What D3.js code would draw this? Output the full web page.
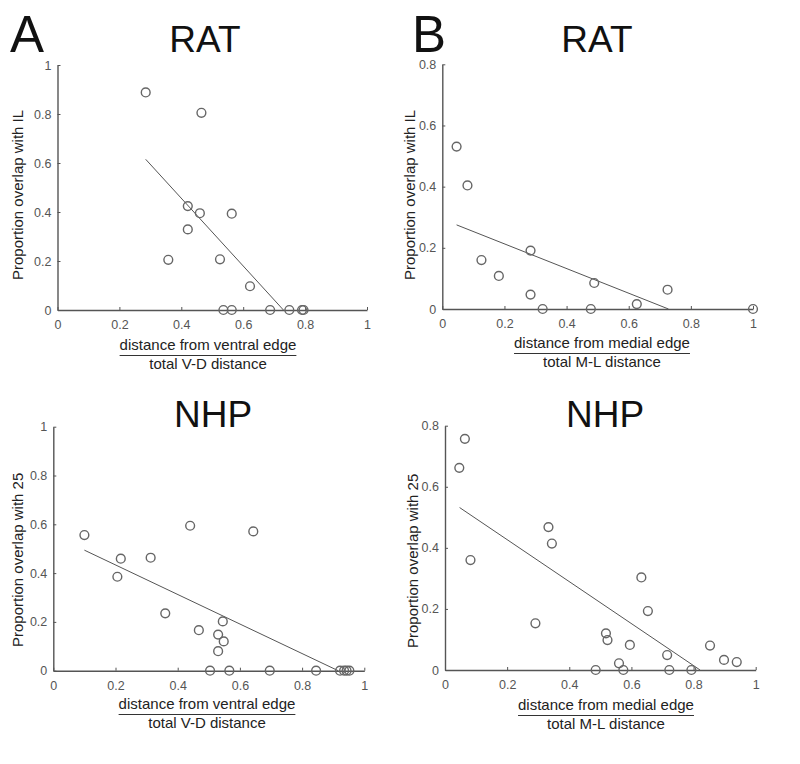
<!DOCTYPE html>
<html>
<head>
<meta charset="utf-8">
<script src="https://cdn.jsdelivr.net/npm/d3@7"></script>
<style>
  html, body { margin: 0; padding: 0; background: #fff; }
  svg text { font-family: Arial, "Liberation Sans", sans-serif; }
</style>
</head>
<body>
<svg id="chart" width="800" height="764"></svg>
<script>
// ---------- DATA ----------
const xTicks = [0, 0.2, 0.4, 0.6, 0.8, 1];
const yTicksA = [0, 0.2, 0.4, 0.6, 0.8, 1];
const yTicksB = [0, 0.2, 0.4, 0.6, 0.8];

// Panel A (rat, V-D)
const ratVD_x = [0.285, 0.465, 0.421, 0.460, 0.563, 0.421, 0.358, 0.525, 0.622, 0.536, 0.563, 0.687, 0.749, 0.790, 0.795];
const ratVD_y = [0.888, 0.805, 0.424, 0.395, 0.393, 0.329, 0.205, 0.207, 0.097, 0, 0, 0, 0, 0, 0];
const ratVD_fitX = [0.285, 0.730];
const ratVD_fitY = [0.615, 0];

// Panel B (rat, M-L)
const ratML_x = [0.046, 0.081, 0.126, 0.182, 0.284, 0.284, 0.323, 0.478, 0.489, 0.626, 0.725, 1.0];
const ratML_y = [0.531, 0.404, 0.160, 0.108, 0.191, 0.047, 0, 0, 0.085, 0.016, 0.063, 0];
const ratML_fitX = [0.046, 0.728];
const ratML_fitY = [0.275, 0];

// Panel C (NHP, V-D)
const nhpVD_x = [0.100, 0.217, 0.206, 0.313, 0.440, 0.643, 0.360, 0.468, 0.545, 0.530, 0.548, 0.530, 0.504, 0.566, 0.696, 0.845, 0.922, 0.935, 0.943, 0.952];
const nhpVD_y = [0.556, 0.459, 0.385, 0.463, 0.594, 0.571, 0.235, 0.166, 0.202, 0.148, 0.120, 0.080, 0, 0, 0, 0, 0, 0, 0, 0];
const nhpVD_fitX = [0.100, 0.916];
const nhpVD_fitY = [0.494, 0];

// Panel D (NHP, M-L)
const nhpML_x = [0.064, 0.046, 0.082, 0.333, 0.344, 0.291, 0.632, 0.653, 0.518, 0.523, 0.595, 0.560, 0.485, 0.574, 0.715, 0.722, 0.793, 0.853, 0.898, 0.939];
const nhpML_y = [0.757, 0.662, 0.360, 0.468, 0.414, 0.153, 0.303, 0.193, 0.120, 0.098, 0.082, 0.022, 0, 0, 0.049, 0, 0, 0.080, 0.033, 0.026];
const nhpML_fitX = [0.047, 0.821];
const nhpML_fitY = [0.532, 0];

// ---------- DRAW ----------
const svg = d3.select("#chart");
const axisColor = "#555";
const fmt = d => (d === 0 ? "0" : d === 1 ? "1" : d3.format(".1f")(d));

function panel(o) {
  const x = d3.scaleLinear().domain([0, 1]).range([o.x0, o.x1]);
  const y = d3.scaleLinear().domain([0, o.ymax]).range([o.y0, o.y1]);
  const g = svg.append("g");

  // x axis (ticks pointing inward)
  const xa = g.append("g").attr("transform", `translate(0,${o.y0})`)
    .call(d3.axisBottom(x).tickValues(xTicks).tickSize(-3).tickSizeOuter(0).tickPadding(7).tickFormat(fmt));
  const ya = g.append("g").attr("transform", `translate(${o.x0},0)`)
    .call(d3.axisLeft(y).tickValues(o.yTicks).tickSize(-3).tickSizeOuter(0).tickPadding(6).tickFormat(fmt));
  [xa, ya].forEach(a => {
    a.select(".domain").attr("stroke", axisColor).attr("stroke-width", 1.4);
    a.selectAll(".tick line").attr("stroke", axisColor).attr("stroke-width", 1);
    a.selectAll(".tick text").attr("fill", "#555").attr("font-size", 12.5)
      .attr("font-family", "Arial, 'Liberation Sans', sans-serif");
  });
  xa.selectAll(".tick text").attr("dy", "0.95em");

  // fit line
  g.append("line")
    .attr("x1", x(o.fitX[0])).attr("y1", y(o.fitY[0]))
    .attr("x2", x(o.fitX[1])).attr("y2", y(o.fitY[1]))
    .attr("stroke", "#555").attr("stroke-width", 1);

  // points
  g.selectAll("circle.pt").data(o.xs.map((v, i) => [v, o.ys[i]])).enter()
    .append("circle").attr("class", "pt")
    .attr("cx", d => x(d[0])).attr("cy", d => y(d[1])).attr("r", 4.4)
    .attr("fill", "none").attr("stroke", "#666").attr("stroke-width", 1.4);

  // titles
  g.append("text").attr("x", o.titleX).attr("y", o.titleY).attr("text-anchor", "middle")
    .attr("font-size", 37).attr("fill", "#111").text(o.title);
  if (o.letter) {
    g.append("text").attr("x", o.letterX).attr("y", o.titleY).attr("font-size", 51)
      .attr("fill", "#111").text(o.letter);
  }

  // y label
  g.append("text")
    .attr("transform", `translate(${o.ylabX},${o.ylabY}) rotate(-90)`)
    .attr("text-anchor", "start").attr("font-size", 15).attr("fill", "#222")
    .text(o.ylabel);

  // x label as a fraction
  const t1 = g.append("text").attr("x", o.xlabX).attr("y", o.xlabY).attr("text-anchor", "middle")
    .attr("font-size", 15).attr("fill", "#222").text(o.xlab1);
  const w = t1.node().getComputedTextLength();
  g.append("line").attr("x1", o.xlabX - w / 2).attr("x2", o.xlabX + w / 2)
    .attr("y1", o.xlabY + 5.5).attr("y2", o.xlabY + 5.5).attr("stroke", "#333").attr("stroke-width", 1);
  g.append("text").attr("x", o.xlabX).attr("y", o.xlabY + 18.5).attr("text-anchor", "middle")
    .attr("font-size", 15).attr("fill", "#222").text(o.xlab2);
}

panel({ x0: 57.5, x1: 367, y0: 310, y1: 65, ymax: 1, yTicks: yTicksA,
  xs: ratVD_x, ys: ratVD_y, fitX: ratVD_fitX, fitY: ratVD_fitY,
  title: "RAT", titleX: 205, titleY: 52, letter: "A", letterX: 10,
  ylabel: "Proportion overlap with IL", ylabX: 23, ylabY: 280,
  xlab1: "distance from ventral edge", xlab2: "total V-D distance", xlabX: 208, xlabY: 350 });

panel({ x0: 442.3, x1: 753, y0: 309, y1: 64.3, ymax: 0.8, yTicks: yTicksB,
  xs: ratML_x, ys: ratML_y, fitX: ratML_fitX, fitY: ratML_fitY,
  title: "RAT", titleX: 597, titleY: 52, letter: "B", letterX: 412,
  ylabel: "Proportion overlap with IL", ylabX: 415, ylabY: 280,
  xlab1: "distance from medial edge", xlab2: "total M-L distance", xlabX: 602, xlabY: 348 });

panel({ x0: 53.3, x1: 364.3, y0: 670.7, y1: 426.7, ymax: 1, yTicks: yTicksA,
  xs: nhpVD_x, ys: nhpVD_y, fitX: nhpVD_fitX, fitY: nhpVD_fitY,
  title: "NHP", titleX: 213, titleY: 426.5,
  ylabel: "Proportion overlap with 25", ylabX: 23, ylabY: 647,
  xlab1: "distance from ventral edge", xlab2: "total V-D distance", xlabX: 207, xlabY: 709 });

panel({ x0: 445, x1: 755.7, y0: 670, y1: 425.7, ymax: 0.8, yTicks: yTicksB,
  xs: nhpML_x, ys: nhpML_y, fitX: nhpML_fitX, fitY: nhpML_fitY,
  title: "NHP", titleX: 605, titleY: 426.5,
  ylabel: "Proportion overlap with 25", ylabX: 418, ylabY: 648,
  xlab1: "distance from medial edge", xlab2: "total M-L distance", xlabX: 606, xlabY: 710 });
</script>
</body>
</html>
